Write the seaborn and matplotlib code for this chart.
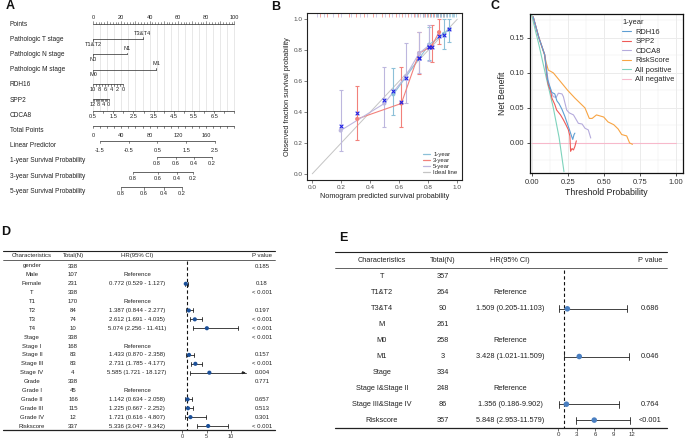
import numpy as np
import pandas as pd
import matplotlib
matplotlib.use("Agg")
import matplotlib.pyplot as plt
from matplotlib.lines import Line2D
import seaborn as sns

sns.set_theme(style="white")
plt.rcParams['font.family'] = ['Liberation Sans', 'DejaVu Sans']

W, H = 685, 442
fig = plt.figure(figsize=(W / 100, H / 100), dpi=100)


def rect(x0, y0, x1, y1):
    return [x0 / W, 1 - y1 / H, (x1 - x0) / W, (y1 - y0) / H]

# ----------------------------------------------------------------- data A
nomo_rows = ["Points", "Pathologic T stage", "Pathologic N stage", "Pathologic M stage",
             "RDH16", "SPP2", "CDCA8", "Total Points", "Linear Predictor",
             "1-year Survival Probability", "3-year Survival Probability",
             "5-year Survival Probability"]
t_levels = ["T1&T2", "T3&T4"]
t_points = [0, 35]
n_levels = ["N0", "N1"]
n_points = [0, 24]
m_levels = ["M0", "M1"]
m_points = [0, 44.5]
rdh16_range = [10, 0]
rdh16_pts = [0, 21.5]
rdh16_labels = [10, 8, 6, 4, 2, 0]
spp2_range = [12, 0]
spp2_pts = [0, 11]
spp2_labels = [12, 8, 4, 0]
cdca8_range = [0.5, 7.5]
cdca8_pts = [0, 100]
cdca8_labels = [0.5, 1.5, 2.5, 3.5, 4.5, 5.5, 6.5]
total_range = [0, 200]
total_pts = [0, 100]
total_labels = [0, 40, 80, 120, 160]
lp_labels = [-1.5, -0.5, 0.5, 1.5, 2.5]
lp_pts = [4.9, 25.2, 45.5, 65.8, 86.1]
surv_labels = [0.8, 0.6, 0.4, 0.2]
surv1_pts = [45.2, 58.7, 71.4, 84.1]
surv3_pts = [28.3, 45.9, 59.4, 70.7]
surv5_pts = [19.8, 36.0, 50.2, 62.9]

# ----------------------------------------------------------------- data B
cal_groups = ["1-year", "3-year", "5-year"]
cal1_pred = [0.559, 0.805, 0.908, 0.945]
cal1_obs = [0.514, 0.835, 0.905, 0.935]
cal1_lo = [0.383, 0.736, 0.81, 0.85]
cal1_hi = [0.683, 0.95, 1.0, 1.0]
cal1_corr = [0.537, 0.823, 0.898, 0.937]
cal3_pred = [0.31, 0.614, 0.736, 0.823, 0.874]
cal3_obs = [0.355, 0.455, 0.78, 0.825, 0.916]
cal3_lo = [0.22, 0.30, 0.646, 0.72, 0.84]
cal3_hi = [0.565, 0.693, 0.92, 0.96, 1.0]
cal3_corr = [0.395, 0.466, 0.747, 0.823, 0.892]
cal5_pred = [0.196, 0.497, 0.644, 0.736, 0.805]
cal5_obs = [0.28, 0.455, 0.63, 0.78, 0.83]
cal5_lo = [0.15, 0.30, 0.46, 0.65, 0.73]
cal5_hi = [0.54, 0.693, 0.845, 0.92, 0.96]
cal5_corr = [0.31, 0.48, 0.622, 0.747, 0.823]
rug_1y = [0.72, 0.76, 0.79, 0.81, 0.83, 0.85, 0.86, 0.87, 0.88, 0.89, 0.9, 0.91,
          0.92, 0.93, 0.94, 0.95, 0.96, 0.97, 0.98, 0.99]
rug_3y = [0.05, 0.1, 0.18, 0.25, 0.3, 0.36, 0.42, 0.48, 0.53, 0.58, 0.62, 0.66,
          0.7, 0.73, 0.76, 0.78, 0.8, 0.82, 0.84, 0.86, 0.87, 0.88, 0.9, 0.91, 0.93]
rug_5y = [0.03, 0.08, 0.14, 0.2, 0.27, 0.33, 0.38, 0.44, 0.5, 0.55, 0.6, 0.64,
          0.68, 0.71, 0.74, 0.77, 0.79, 0.81, 0.83, 0.85, 0.87, 0.89]

# ----------------------------------------------------------------- data C
dca_models = ["RDH16", "SPP2", "CDCA8", "RiskScore", "All positive", "All negative"]
rdh16_t = [0.01, 0.05, 0.09, 0.11, 0.127, 0.14, 0.16, 0.175, 0.19, 0.21, 0.23,
           0.25, 0.265, 0.278, 0.285, 0.294, 0.30]
rdh16_nb = [0.18, 0.15, 0.126, 0.09, 0.08, 0.072, 0.07, 0.06, 0.056, 0.048, 0.038,
            0.026, 0.017, 0.009, 0.005, 0.012, 0.014]
spp2_t = [0.01, 0.05, 0.09, 0.105, 0.115, 0.13, 0.14, 0.16, 0.173, 0.2, 0.22, 0.24,
          0.254, 0.265, 0.27, 0.28, 0.29, 0.30, 0.31]
spp2_nb = [0.18, 0.15, 0.126, 0.095, 0.083, 0.075, 0.064, 0.055, 0.047, 0.04, 0.033,
           0.025, 0.019, 0.01, -0.012, -0.008, -0.01, -0.005, 0.003]
cdca8_t = [0.01, 0.05, 0.09, 0.11, 0.127, 0.15, 0.17, 0.185, 0.21, 0.22, 0.243,
           0.26, 0.29, 0.324, 0.35, 0.37, 0.393, 0.41]
cdca8_nb = [0.18, 0.15, 0.126, 0.095, 0.0757, 0.066, 0.065, 0.071, 0.07, 0.066,
            0.047, 0.043, 0.04, 0.028, 0.027, 0.021, 0.0186, 0.007]
risk_t = [0.01, 0.05, 0.09, 0.10, 0.115, 0.15, 0.19, 0.25, 0.30, 0.33, 0.37, 0.40,
          0.42, 0.45, 0.50, 0.53, 0.57, 0.60, 0.625, 0.66, 0.68, 0.70]
risk_nb = [0.18, 0.15, 0.125, 0.115, 0.104, 0.10, 0.09, 0.075, 0.064, 0.058, 0.05,
           0.035, 0.035, 0.04, 0.037, 0.03, 0.026, 0.02, 0.012, 0.01, 0.0, -0.002]
allpos_t = [0.0, 0.05, 0.10, 0.15, 0.19, 0.224]
allpos_nb = [0.182, 0.14, 0.094, 0.05, 0.008, -0.041]
allneg_t = [0.0, 1.0]
allneg_nb = [0.0, 0.0]

# ----------------------------------------------------------------- data D
d_chars = ["gender", "Male", "Female", "T", "T1", "T2", "T3", "T4", "Stage", "Stage I",
           "Stage II", "Stage III", "Stage IV", "Grade", "Grade I", "Grade II",
           "Grade III", "Grade IV", "Riskscore"]
d_n = [338, 107, 231, 338, 170, 84, 74, 10, 338, 168, 83, 83, 4, 338, 45, 166, 115, 12, 337]
d_hr_text = ["", "Reference", "0.772 (0.529 - 1.127)", "", "Reference",
             "1.387 (0.844 - 2.277)", "2.612 (1.691 - 4.035)", "5.074 (2.256 - 11.411)",
             "", "Reference", "1.433 (0.870 - 2.358)", "2.731 (1.785 - 4.177)",
             "5.585 (1.721 - 18.127)", "", "Reference", "1.142 (0.634 - 2.058)",
             "1.225 (0.667 - 2.252)", "1.721 (0.616 - 4.807)", "5.336 (3.047 - 9.342)"]
nan = np.nan
d_hr = [nan, nan, 0.772, nan, nan, 1.387, 2.612, 5.074, nan, nan, 1.433, 2.731, 5.585,
        nan, nan, 1.142, 1.225, 1.721, 5.336]
d_lo = [nan, nan, 0.529, nan, nan, 0.844, 1.691, 2.256, nan, nan, 0.870, 1.785, 1.721,
        nan, nan, 0.634, 0.667, 0.616, 3.047]
d_hi = [nan, nan, 1.127, nan, nan, 2.277, 4.035, 11.411, nan, nan, 2.358, 4.177, 18.127,
        nan, nan, 2.058, 2.252, 4.807, 9.342]
d_p = ["0.185", "", "0.18", "< 0.001", "", "0.197", "< 0.001", "< 0.001", "< 0.001", "",
       "0.157", "< 0.001", "0.004", "0.771", "", "0.657", "0.513", "0.301", "< 0.001"]
d_ticks = [0, 5, 10]
d_xmax = 13

# ----------------------------------------------------------------- data E
e_chars = ["T", "T1&T2", "T3&T4", "M", "M0", "M1", "Stage", "Stage I&Stage II",
           "Stage III&Stage IV", "Riskscore"]
e_n = [357, 264, 90, 261, 258, 3, 334, 248, 86, 357]
e_hr_text = ["", "Reference", "1.509 (0.205-11.103)", "", "Reference",
             "3.428 (1.021-11.509)", "", "Reference", "1.356 (0.186-9.902)",
             "5.848 (2.953-11.579)"]
e_hr = [nan, nan, 1.509, nan, nan, 3.428, nan, nan, 1.356, 5.848]
e_lo = [nan, nan, 0.205, nan, nan, 1.021, nan, nan, 0.186, 2.953]
e_hi = [nan, nan, 11.103, nan, nan, 11.509, nan, nan, 9.902, 11.579]
e_p = ["", "", "0.686", "", "", "0.046", "", "", "0.764", "<0.001"]
e_ticks = [0, 3, 6, 9, 12]

# ======================================================== panel A: nomogram
axA = fig.add_axes(rect(0, 0, 240, 200))
px0, ppx = 93, 1.415
row0, rstep = 24, 15.2
axA.set_xlim((0 - px0) / ppx, (240 - px0) / ppx)
axA.set_ylim((200 - row0) / rstep, (0 - row0) / rstep)
axA.axis('off')
lc = '#3a3a3a'
lw = 0.55
fsl = 4.7
fst = 4.1
lab_x = (10 - px0) / ppx

for i, name in enumerate(nomo_rows):
    axA.text(lab_x, i, name, fontsize=fsl, color='#222222', ha='left', va='center')

# grid
for p in np.arange(0, 100.1, 5):
    axA.plot([p, p], [0, 6 - 0.3], color='#dedede', lw=0.5, zorder=0)


def lin(v, vr, pr):
    return pr[0] + (v - vr[0]) * (pr[1] - pr[0]) / (vr[1] - vr[0])


def fmt(v):
    return ('%g' % v)


def scale_row(y, pts, labels, tick_pts=None, tick_len=0.16, lab_dy=0.62):
    axA.plot([min(pts + (tick_pts or [])), max(pts + (tick_pts or []))], [y, y],
             color=lc, lw=lw)
    for p in (tick_pts or pts):
        axA.plot([p, p], [y, y + tick_len], color=lc, lw=lw * 0.8)
    for p, l in zip(pts, labels):
        axA.text(p, y + lab_dy, l, fontsize=fst, color='#222222', ha='center',
                 va='center')

# Points row (ticks up, labels above)
axA.plot([0, 100], [0, 0], color=lc, lw=lw)
for p in np.arange(0, 100.1, 2):
    tl = 0.2 if p % 10 == 0 else 0.1
    axA.plot([p, p], [0, -tl], color=lc, lw=lw * 0.7)
for p in range(0, 101, 20):
    axA.text(p, -0.42, str(p), fontsize=fst, color='#222222', ha='center', va='center')

# categorical rows
for i, (lev, pts) in enumerate([(t_levels, t_points), (n_levels, n_points),
                                (m_levels, m_points)], start=1):
    axA.plot([pts[0], pts[1]], [i, i], color=lc, lw=lw)
    axA.plot([pts[1], pts[1]], [i, i - 0.12], color=lc, lw=lw)
    axA.plot([pts[0], pts[0]], [i, i + 0.12], color=lc, lw=lw)
    axA.text(pts[1], i - 0.38, lev[1], fontsize=fst, ha='center', va='center',
             color='#222222')
    axA.text(pts[0], i + 0.32, lev[0], fontsize=fst, ha='center', va='center',
             color='#222222')

# RDH16
r_ticks = [lin(v, rdh16_range, rdh16_pts) for v in range(10, -1, -1)]
scale_row(4 - 0.08, [lin(v, rdh16_range, rdh16_pts) for v in rdh16_labels],
          [fmt(v) for v in rdh16_labels], tick_pts=r_ticks, lab_dy=0.4)
# SPP2
s_ticks = [lin(v, spp2_range, spp2_pts) for v in range(12, -1, -1)]
scale_row(5 - 0.08, [lin(v, spp2_range, spp2_pts) for v in spp2_labels],
          [fmt(v) for v in spp2_labels], tick_pts=s_ticks, lab_dy=0.4)
# CDCA8
c_ticks = [lin(v, cdca8_range, cdca8_pts) for v in np.arange(0.5, 7.51, 0.5)]
scale_row(6 - 0.3, [lin(v, cdca8_range, cdca8_pts) for v in cdca8_labels],
          [fmt(v) for v in cdca8_labels], tick_pts=c_ticks, lab_dy=0.36)
# Total points
tp_ticks = [lin(v, total_range, total_pts) for v in range(0, 201, 10)]
scale_row(7 - 0.3, [lin(v, total_range, total_pts) for v in total_labels],
          [str(v) for v in total_labels], tick_pts=tp_ticks, lab_dy=0.62)
# Linear predictor
scale_row(8 - 0.3, lp_pts, [fmt(v) for v in lp_labels], lab_dy=0.62)
# Survival
for r, pts in zip([9, 10, 11], [surv1_pts, surv3_pts, surv5_pts]):
    scale_row(r - 0.27, pts, [fmt(v) for v in surv_labels], lab_dy=0.45)

# ======================================================== panel B: calibration
axB = fig.add_axes(rect(307.2, 13, 462.4, 180))
axB.set_xlim(-0.035, 1.035)
axB.set_ylim(-0.04, 1.04)
cal_pal = {"1-year": "#8cc0d8", "3-year": "#f2817b", "5-year": "#bdb7de"}
axB.plot([0, 1], [0, 1], color='#c4c4c4', lw=0.7, zorder=1)

cal = pd.concat([
    pd.DataFrame({"pred": cal1_pred, "obs": cal1_obs, "lo": cal1_lo, "hi": cal1_hi,
                  "corr": cal1_corr, "group": "1-year"}),
    pd.DataFrame({"pred": cal3_pred, "obs": cal3_obs, "lo": cal3_lo, "hi": cal3_hi,
                  "corr": cal3_corr, "group": "3-year"}),
    pd.DataFrame({"pred": cal5_pred, "obs": cal5_obs, "lo": cal5_lo, "hi": cal5_hi,
                  "corr": cal5_corr, "group": "5-year"}),
], ignore_index=True)

for g in cal_groups:
    sub = cal[cal.group == g]
    axB.errorbar(sub.pred, sub.obs, yerr=[sub.obs - sub.lo, sub.hi - sub.obs],
                 fmt='none', ecolor=cal_pal[g], elinewidth=0.8, capsize=1.6,
                 capthick=0.8, zorder=2)
sns.lineplot(data=cal, x="pred", y="obs", hue="group", palette=cal_pal,
             estimator=None, lw=0.8, legend=False, ax=axB, zorder=3)
sns.scatterplot(data=cal, x="pred", y="obs", hue="group", palette=cal_pal, s=9,
                edgecolor='none', legend=False, ax=axB, zorder=4)
sns.scatterplot(data=cal, x="pred", y="corr", color='#2020e6', marker='x', s=7,
                linewidth=0.8, legend=False, ax=axB, zorder=5)
for vals, g in [(rug_3y, "3-year"), (rug_5y, "5-year"), (rug_1y, "1-year")]:
    axB.vlines(vals, 1.04 - 0.028, 1.04, color=cal_pal[g], lw=0.5, zorder=2)

axB.set_xticks([0, 0.2, 0.4, 0.6, 0.8, 1.0])
axB.set_yticks([0, 0.2, 0.4, 0.6, 0.8, 1.0])
axB.set_xticklabels(["0.0", "0.2", "0.4", "0.6", "0.8", "1.0"])
axB.set_yticklabels(["0.0", "0.2", "0.4", "0.6", "0.8", "1.0"])
axB.tick_params(axis='both', labelsize=4.6, colors='#4d4d4d', length=2, width=0.5,
                pad=1.5, bottom=True, left=True)
axB.set_xlabel("Nomogram predicted survival probability", fontsize=5.2, labelpad=2,
               color='#222222')
axB.set_ylabel("Observed fraction survival probability", fontsize=5.2, labelpad=2,
               color='#222222')
for s in axB.spines.values():
    s.set_color('#222222')
    s.set_linewidth(0.8)
handles = [Line2D([], [], color=cal_pal["1-year"], lw=0.9),
           Line2D([], [], color=cal_pal["3-year"], lw=0.9),
           Line2D([], [], color=cal_pal["5-year"], lw=0.9),
           Line2D([], [], color='#c4c4c4', lw=0.9)]
axB.legend(handles, ["1-year", "3-year", "5-year", "Ideal line"], loc='upper left',
           bbox_to_anchor=(0.72, 0.19), fontsize=4.3, frameon=False,
           handlelength=1.3, handletextpad=0.5, labelspacing=0.12, borderpad=0.1)

# ======================================================== panel C: DCA
axC = fig.add_axes(rect(530, 14, 683, 173))
axC.set_xlim(-0.012, 1.051)
axC.set_ylim(-0.0429, 0.184)
for x in np.arange(0, 1.01, 0.125):
    axC.axvline(x, color='#ebebeb', lw=0.7 if (x * 4) % 1 == 0 else 0.35, zorder=0)
for y in np.arange(-0.025, 0.18, 0.025):
    axC.axhline(y, color='#ebebeb', lw=0.7 if round(y * 40) % 2 == 0 else 0.35, zorder=0)
dca = pd.concat([
    pd.DataFrame({"t": rdh16_t, "nb": rdh16_nb, "model": "RDH16"}),
    pd.DataFrame({"t": spp2_t, "nb": spp2_nb, "model": "SPP2"}),
    pd.DataFrame({"t": cdca8_t, "nb": cdca8_nb, "model": "CDCA8"}),
    pd.DataFrame({"t": risk_t, "nb": risk_nb, "model": "RiskScore"}),
    pd.DataFrame({"t": allpos_t, "nb": allpos_nb, "model": "All positive"}),
    pd.DataFrame({"t": allneg_t, "nb": allneg_nb, "model": "All negative"}),
], ignore_index=True)
dca_pal = {"RDH16": "#5e9ed3", "SPP2": "#ef5a57", "CDCA8": "#b5abdc",
           "RiskScore": "#f8a443", "All positive": "#7dd3bc", "All negative": "#f7b9cb"}
sns.lineplot(data=dca, x="t", y="nb", hue="model", hue_order=dca_models[::-1],
             palette=dca_pal, estimator=None, sort=False, lw=0.8, ax=axC)
hs, ls = axC.get_legend_handles_labels()
hmap = dict(zip(ls, hs))
leg = axC.legend([hmap[m] for m in dca_models], dca_models, title="1-year",
                 loc='upper left', bbox_to_anchor=(0.57, 1.0), fontsize=5.4,
                 title_fontsize=5.4, frameon=False, handlelength=1.1,
                 handletextpad=0.6, labelspacing=0.3, borderpad=0.2,
                 alignment='left')
axC.set_xticks([0, 0.25, 0.5, 0.75, 1.0])
axC.set_xticklabels(["0.00", "0.25", "0.50", "0.75", "1.00"])
axC.set_yticks([0, 0.05, 0.10, 0.15])
axC.set_yticklabels(["0.00", "0.05", "0.10", "0.15"])
axC.tick_params(axis='both', labelsize=5.5, colors='#333333', length=2.5, width=0.6,
                pad=1.5, bottom=True, left=True)
axC.set_xlabel("Threshold Probability", fontsize=6.3, labelpad=2, color='#222222')
axC.set_ylabel("Net Benefit", fontsize=6.3, labelpad=2, color='#222222')
for s in axC.spines.values():
    s.set_color('#111111')
    s.set_linewidth(0.9)


# ======================================================== tables D & E
def table(x0, x1, ytop, ybot, row_y0, row_step, cols, header, rows, p_x, fs,
          top_y, head_y, under_y):
    ax = fig.add_axes(rect(0, ytop, W, ybot))
    ax.set_xlim(0, W)
    lim_b = (ybot - row_y0) / row_step
    lim_t = (ytop - row_y0) / row_step
    ax.set_ylim(lim_b, lim_t)
    ax.axis('off')
    ax.patch.set_alpha(0)
    to_r = lambda y: (y - row_y0) / row_step
    ax.plot([x0, x1], [to_r(top_y)] * 2, color='#222222', lw=0.8, clip_on=False)
    ax.plot([x0, x1], [to_r(under_y)] * 2, color='#222222', lw=0.5, clip_on=False)
    ax.plot([x0, x1], [lim_b] * 2, color='#222222', lw=0.9, clip_on=False)
    for cx, h in zip(cols + [p_x], header):
        ax.text(cx, to_r(head_y), h, fontsize=fs, ha='center', va='center',
                color='#222222')
    for i, r in enumerate(rows):
        for cx, v in zip(cols + [p_x], r):
            ax.text(cx, i, v, fontsize=fs, ha='center', va='center', color='#222222')
    return lim_b, lim_t, to_r(under_y)


def forest(x0, x1, ytop, ybot, lims, zero_px, px_per, hr, lo, hi, ticks, color, s,
           xmax=None, fs=4.0):
    ax = fig.add_axes(rect(x0, ytop, x1, ybot))
    ax.patch.set_alpha(0)
    ax.set_xlim((x0 - zero_px) / px_per, (x1 - zero_px) / px_per)
    ax.set_ylim(lims[0], lims[1])
    df = pd.DataFrame({"hr": hr, "lo": lo, "hi": hi, "row": np.arange(len(hr))}).dropna()
    ax.plot([1, 1], [lims[2] + 0.15, lims[0]], color='#111111', lw=0.8,
            ls=(0, (3, 2.2)), zorder=1)
    for _, r in df.iterrows():
        hi_v = r.hi if (xmax is None or r.hi <= xmax) else xmax
        ax.plot([r.lo, hi_v], [r.row, r.row], color='#222222', lw=0.6, zorder=2)
        ax.plot([r.lo, r.lo], [r.row - 0.22, r.row + 0.22], color='#222222', lw=0.6)
        if xmax is not None and r.hi > xmax:
            ax.annotate('', xy=(xmax, r.row), xytext=(xmax - 0.8, r.row),
                        arrowprops=dict(arrowstyle='-|>', lw=0.6, color='#222222',
                                        mutation_scale=4, shrinkA=0, shrinkB=0))
        else:
            ax.plot([r.hi, r.hi], [r.row - 0.22, r.row + 0.22], color='#222222', lw=0.6)
    sns.scatterplot(data=df, x="hr", y="row", color=color, s=s, edgecolor='none',
                    ax=ax, zorder=3, legend=False)
    for sp in ax.spines.values():
        sp.set_visible(False)
    ax.set_yticks([])
    ax.set_xticks(ticks)
    ax.set_xticklabels([str(t) for t in ticks])
    ax.tick_params(axis='x', bottom=True, length=2, width=0.5, labelsize=fs, pad=1.2,
                   colors='#333333')
    ax.set_xlabel("")
    ax.set_ylabel("")
    return ax

# D
d_rows = [[c, str(n), h, p] for c, n, h, p in zip(d_chars, d_n, d_hr_text, d_p)]
limsD = table(3, 275, 245, 430, 266, 8.89, [32, 73, 137],
              ["Characteristics", "Total(N)", "HR(95% CI)", "P value"], d_rows, 262,
              4.3, 251, 255.5, 260)
forest(172, 252, 245, 430, limsD, 182, 4.9, d_hr, d_lo, d_hi, d_ticks, '#1b4f98', 9,
       xmax=d_xmax, fs=4.0)

# E
e_rows = [[c, str(n), h, p] for c, n, h, p in zip(e_chars, e_n, e_hr_text, e_p)]
limsE = table(335, 667, 245, 428, 277, 15.9, [382, 443, 510],
              ["Characteristics", "Total(N)", "HR(95% CI)", "P value"], e_rows, 650,
              5.3, 252, 261, 268)
forest(548, 650, 245, 428, limsE, 558, 6.2, e_hr, e_lo, e_hi, e_ticks, '#4a7fc1', 16,
       fs=4.4)

# panel letters
for lab, x, y in [("A", 10, 6), ("B", 276, 7), ("C", 495, 6), ("D", 6, 232),
                  ("E", 343, 238)]:
    fig.text(x / W, 1 - y / H, lab, fontsize=9, fontweight='bold', ha='center',
             va='center', color='#111111')

fig.savefig("out.png", dpi=100)
